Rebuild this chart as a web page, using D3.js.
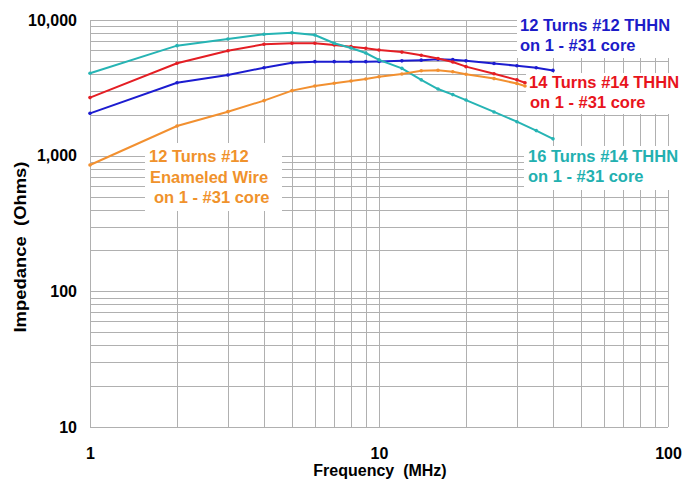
<!DOCTYPE html>
<html>
<head>
<meta charset="utf-8">
<script src="https://cdn.jsdelivr.net/npm/d3@7"></script>
<style>
	body { margin: 0; background: #fff; }
	svg text { font-family: Arial, "Liberation Sans", sans-serif; font-weight: bold; white-space: pre; }
</style>
</head>
<body>
<svg id="chart" width="687" height="481"></svg>
<script>
// 주파수 (MHz) / 임피던스 (Ohms)
const blueFreq   = [1, 2, 3, 4, 5, 6, 7, 8, 9, 10, 12, 14, 16, 18, 20, 25, 30, 35, 40];
const blueZ      = [2050, 3450, 3930, 4450, 4840, 4930, 4930, 4930, 4930, 4950, 5000, 5060, 5130, 5100, 5000, 4780, 4600, 4450, 4250];

const redFreq    = [1, 2, 3, 4, 5, 6, 7, 8, 9, 10, 12, 14, 16, 18, 20, 25, 30, 32];
const redZ       = [2680, 4800, 5940, 6620, 6740, 6740, 6550, 6360, 6190, 6010, 5800, 5500, 5200, 4900, 4530, 4020, 3620, 3450];

const tealFreq   = [1, 2, 3, 4, 5, 6, 7, 8, 9, 10, 12, 14, 16, 18, 20, 25, 30, 35, 40];
const tealZ      = [4050, 6470, 7240, 7850, 8060, 7750, 6740, 6220, 5710, 5080, 4400, 3620, 3100, 2820, 2570, 2100, 1780, 1530, 1330];

const orangeFreq = [1, 2, 3, 4, 5, 6, 7, 8, 9, 10, 12, 14, 16, 18, 20, 25, 30, 32];
const orangeZ    = [854, 1655, 2110, 2545, 3015, 3265, 3415, 3550, 3675, 3820, 4000, 4230, 4260, 4150, 3980, 3700, 3400, 3265];

const xTicks = [1, 10, 100];
const xTickLabels = ['1', '10', '100'];
const yTicks = [10, 100, 1000, 10000];
const yTickLabels = ['10', '100', '1,000', '10,000'];

const series = [
	{ name: 'blue',   freq: blueFreq,   z: blueZ,   color: '#1c1cd0', text: '#1c1cc8',
	  label: ['12 Turns #12 THHN', 'on 1 - #31 core'], lx: [520, 520], ly: [31, 51], box: [517, 10, 170, 48] },
	{ name: 'red',    freq: redFreq,    z: redZ,    color: '#e41e24', text: '#e8141c',
	  label: ['14 Turns #14 THHN', 'on 1 - #31 core'], lx: [529, 530], ly: [88, 108], box: [526, 73, 161, 41] },
	{ name: 'teal',   freq: tealFreq,   z: tealZ,   color: '#26b4b4', text: '#22b0b0',
	  label: ['16 Turns #14 THHN', 'on 1 - #31 core'], lx: [528, 528], ly: [162, 182], box: [524, 146, 163, 44] },
	{ name: 'orange', freq: orangeFreq, z: orangeZ, color: '#f29030', text: '#f0922c',
	  label: ['12 Turns #12', 'Enameled Wire', 'on 1 - #31 core'], lx: [149, 150, 154], ly: [162, 183, 203], box: [145, 143, 137, 68] }
];

const svg = d3.select('#chart');

const x = d3.scaleLog().domain([1, 100]).range([90, 668]);
const y = d3.scaleLog().domain([10, 10000]).range([427, 20]);

// 격자 (1~9 x 10^n)
const gridVals = (lo, hi) => {
	const out = [];
	for(let p = lo; p < hi; p *= 10) {
		for(let k = 1; k < 10; k++) out.push(p * k);
	}
	out.push(hi);
	return out;
};

const grid = svg.append('g').attr('class', 'grid');

grid.selectAll('line.v')
	.data(gridVals(1, 100))
	.enter().append('line')
	.attr('class', 'v')
	.attr('x1', d => Math.round(x(d)) + 0.5)
	.attr('x2', d => Math.round(x(d)) + 0.5)
	.attr('y1', y(10000))
	.attr('y2', y(10))
	.style('stroke', '#b0b0b0')
	.style('stroke-width', 1);

grid.selectAll('line.h')
	.data(gridVals(10, 10000))
	.enter().append('line')
	.attr('class', 'h')
	.attr('x1', x(1))
	.attr('x2', x(100))
	.attr('y1', d => Math.round(y(d)) + 0.5)
	.attr('y2', d => Math.round(y(d)) + 0.5)
	.style('stroke', '#b0b0b0')
	.style('stroke-width', 1);

// 라벨 배경 (흰 박스)
svg.append('g').selectAll('rect')
	.data(series)
	.enter().append('rect')
	.attr('x', d => d.box[0])
	.attr('y', d => d.box[1])
	.attr('width', d => d.box[2])
	.attr('height', d => d.box[3])
	.style('fill', '#fff');

// 축 라벨
const yAxis = d3.axisLeft(y)
	.tickValues(yTicks)
	.tickFormat((d, i) => yTickLabels[i])
	.tickSize(0)
	.tickPadding(13);

svg.append('g')
	.attr('transform', 'translate(' + x(1) + ',0)')
	.call(yAxis)
	.call(g => g.select('.domain').remove())
	.selectAll('text')
	.style('font-size', '16px')
	.style('fill', '#000');

const xAxis = d3.axisBottom(x)
	.tickValues(xTicks)
	.tickFormat((d, i) => xTickLabels[i])
	.tickSize(0)
	.tickPadding(21);

svg.append('g')
	.attr('transform', 'translate(0,' + y(10) + ')')
	.call(xAxis)
	.call(g => g.select('.domain').remove())
	.selectAll('text')
	.style('font-size', '16px')
	.style('fill', '#000');

// 축 제목
svg.append('text')
	.attr('x', 380)
	.attr('y', 476)
	.style('text-anchor', 'middle')
	.style('font-size', '16px')
	.style('fill', '#000')
	.text('Frequency  (MHz)');

svg.append('text')
	.attr('transform', 'translate(26,247) rotate(-90)')
	.attr('textLength', 171)
	.attr('lengthAdjust', 'spacingAndGlyphs')
	.style('text-anchor', 'middle')
	.style('font-size', '16.5px')
	.style('fill', '#000')
	.text('Impedance  (Ohms)');

// 곡선
const line = d3.line()
	.x(d => x(d[0]))
	.y(d => y(d[1]));

series.forEach(s => {
	const pts = s.freq.map((f, i) => [f, s.z[i]]);
	const g = svg.append('g').attr('class', 'series ' + s.name);

	g.append('path')
		.attr('d', line(pts))
		.style('fill', 'none')
		.style('stroke', s.color)
		.style('stroke-width', 2);

	g.selectAll('circle')
		.data(pts)
		.enter().append('circle')
		.attr('cx', d => x(d[0]))
		.attr('cy', d => y(d[1]))
		.attr('r', 1.8)
		.style('fill', s.color);
});

// 범례 텍스트
series.forEach(s => {
	s.label.forEach((t, i) => {
		svg.append('text')
			.attr('x', s.lx[i])
			.attr('y', s.ly[i])
			.style('font-size', '16.5px')
			.style('fill', s.text)
			.text(t);
	});
});
</script>
</body>
</html>
